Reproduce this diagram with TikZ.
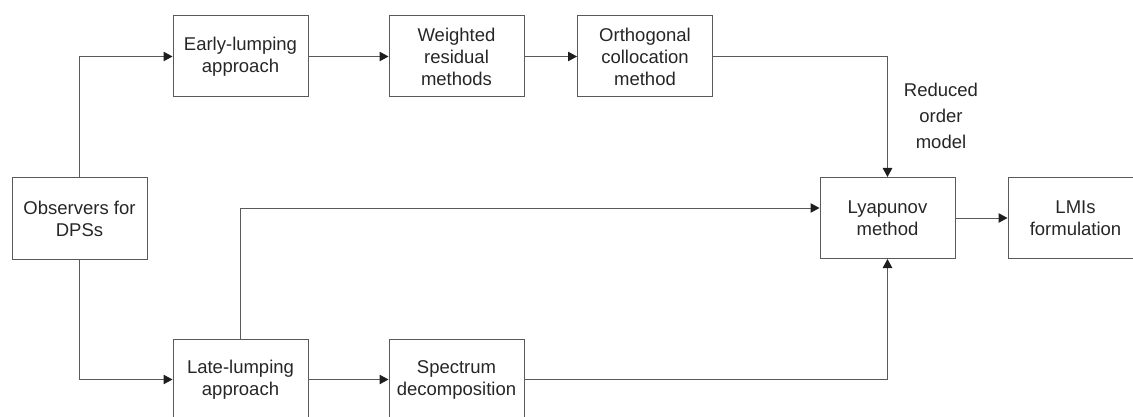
\documentclass[tikz,border=0pt]{standalone}
\usepackage{fontspec}
\setmainfont{Liberation Sans}
\usetikzlibrary{arrows.meta}

\definecolor{linegray}{HTML}{5A5A5A}
\definecolor{tipdark}{HTML}{1E1E1E}

\begin{document}
\begin{tikzpicture}[x=1pt, y=-1pt,
    blk/.style={draw=linegray, line width=1pt, minimum width=135pt,
                minimum height=81pt, align=center, inner sep=2pt,
                font=\fontsize{18.5}{22}\selectfont, text=black!85},
    arr/.style={-{Triangle[length=9pt, width=9.5pt, color=tipdark]},
                line width=1pt, draw=linegray},
    lbl/.style={align=center, font=\fontsize{18.5}{26}\selectfont, text=black!85},
]
\useasboundingbox (0,0) rectangle (1133,417);

% Start
\node[blk] (obs) at (79.5, 218.5) {Observers for\\DPSs};

% Early-lumping branch
\node[blk] (early) at (240.5, 56.5) {Early-lumping\\approach};
\node[blk] (wrm) at (456.5, 56.5) {Weighted\\residual\\methods};
\node[blk] (ocm) at (645, 56.5) {Orthogonal\\collocation\\method};

% Late-lumping branch
\node[blk] (late) at (240.5, 379.5) {Late-lumping\\approach};
\node[blk] (spec) at (456.5, 379.5) {Spectrum\\decomposition};

% Design
\node[blk] (lyap) at (887.5, 218) {Lyapunov\\method};
\node[blk] (lmi) at (1075.5, 218) {LMIs\\formulation};

\node[lbl] (rom) at (941, 116) {Reduced\\order\\model};

\draw[arr] (obs.north) |- (early.west);
\draw[arr] (obs.south) |- (late.west);
\draw[arr] (early) -- (wrm);
\draw[arr] (wrm) -- (ocm);
\draw[arr] (ocm.east) -| (lyap.north);
\draw[arr] (late.north) |- ([yshift=10pt]lyap.west);
\draw[arr] (late) -- (spec);
\draw[arr] (spec.east) -| (lyap.south);
\draw[arr] (lyap) -- (lmi);

\end{tikzpicture}
\end{document}
